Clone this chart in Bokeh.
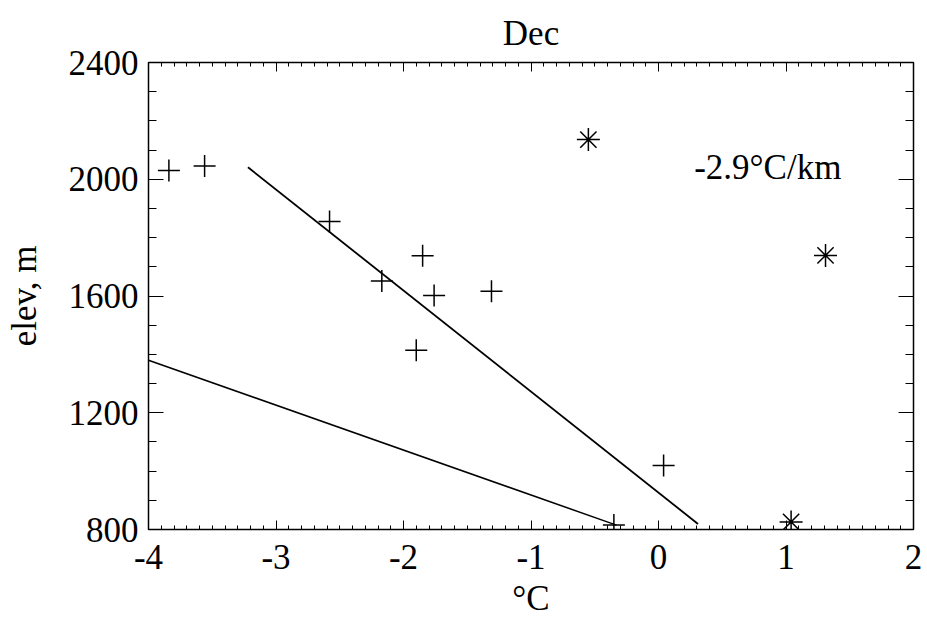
from bokeh.plotting import figure
from bokeh.models import (Range1d, SingleIntervalTicker, LinearAxis, Label,
                          CustomJSTickFormatter)
from bokeh.embed import file_html
from bokeh.resources import INLINE

# ---- data ----
plus_T = [-3.84, -3.56, -2.58, -1.85, -2.17, -1.76, -1.31, -1.90, 0.04, -0.35]
plus_z = [2030, 2045, 1855, 1738, 1651, 1602, 1616, 1414, 1019, 815]
star_T = [-0.55, 1.31, 1.04]
star_z = [2136, 1739, 826]
fit_T = [-3.22, 0.31]
fit_z = [2041, 819]
std_T = [-4.0, -0.33]
std_z = [1380, 815]
title_text = "Dec"
x_label = "\u00b0C"
y_label = "elev, m"
rate_text = "-2.9\u00b0C/km"
rate_T, rate_z = 0.28, 2040

FONT = "Liberation Serif"
FS = "35px"

p = figure(width=925, height=620, x_range=Range1d(-4, 2), y_range=Range1d(800, 2400),
           output_backend="svg", toolbar_location=None,
           min_border_left=148, min_border_right=12, min_border_top=62, min_border_bottom=89)
p.xgrid.visible = False
p.ygrid.visible = False
p.background_fill_color = "white"
p.border_fill_color = "white"
p.outline_line_color = "black"
p.outline_line_width = 1.5

p.title.text = title_text
p.title.align = "center"
p.title.vertical_align = "middle"
p.title.text_font = FONT
p.title.text_font_size = FS
p.title.text_font_style = "normal"
p.title.text_color = "black"
p.title.standoff = 18

plain = CustomJSTickFormatter(code="return tick.toString();")
blank = CustomJSTickFormatter(code="return '';")

def style_x(ax):
    ax.ticker = SingleIntervalTicker(interval=1, num_minor_ticks=10)
    ax.major_tick_in = 9
    ax.major_tick_out = 0
    ax.minor_tick_in = 4
    ax.minor_tick_out = 0
    ax.axis_line_color = "black"
    ax.major_tick_line_color = "black"
    ax.minor_tick_line_color = "black"

def style_y(ax):
    ax.ticker = SingleIntervalTicker(interval=400, num_minor_ticks=4)
    ax.major_tick_in = 15
    ax.major_tick_out = 0
    ax.minor_tick_in = 8
    ax.minor_tick_out = 0
    ax.axis_line_color = "black"
    ax.major_tick_line_color = "black"
    ax.minor_tick_line_color = "black"

xa = p.xaxis[0]
style_x(xa)
xa.formatter = plain
xa.major_label_text_font = FONT
xa.major_label_text_font_size = FS
xa.major_label_text_color = "black"
xa.major_label_standoff = 15
xa.axis_label = x_label
xa.axis_label_text_font = FONT
xa.axis_label_text_font_size = FS
xa.axis_label_text_font_style = "normal"
xa.axis_label_text_color = "black"
xa.axis_label_standoff = 7

ya = p.yaxis[0]
style_y(ya)
ya.formatter = plain
ya.major_label_text_font = FONT
ya.major_label_text_font_size = FS
ya.major_label_text_color = "black"
ya.major_label_standoff = 10
ya.major_label_orientation = "horizontal"
ya.axis_label = y_label
ya.axis_label_text_font = FONT
ya.axis_label_text_font_size = FS
ya.axis_label_text_font_style = "normal"
ya.axis_label_text_color = "black"
ya.axis_label_standoff = 22

top = LinearAxis(formatter=blank, major_label_standoff=0, major_label_text_font_size="1px")
style_x(top)
p.add_layout(top, "above")
right = LinearAxis(formatter=blank, major_label_standoff=0, major_label_text_font_size="1px")
style_y(right)
p.add_layout(right, "right")

p.line(fit_T, fit_z, line_color="black", line_width=1.8)
p.line(std_T, std_z, line_color="black", line_width=1.5)
p.scatter(plus_T, plus_z, marker="cross", size=22, line_color="black", line_width=1.5)
p.scatter(star_T, star_z, marker="asterisk", size=23, line_color="black", line_width=1.5)

p.add_layout(Label(x=rate_T, y=rate_z, text=rate_text, text_font=FONT, text_font_size=FS,
                   text_color="black", text_baseline="alphabetic", text_align="left"))

open("out.html", "w").write(file_html(p, INLINE))
